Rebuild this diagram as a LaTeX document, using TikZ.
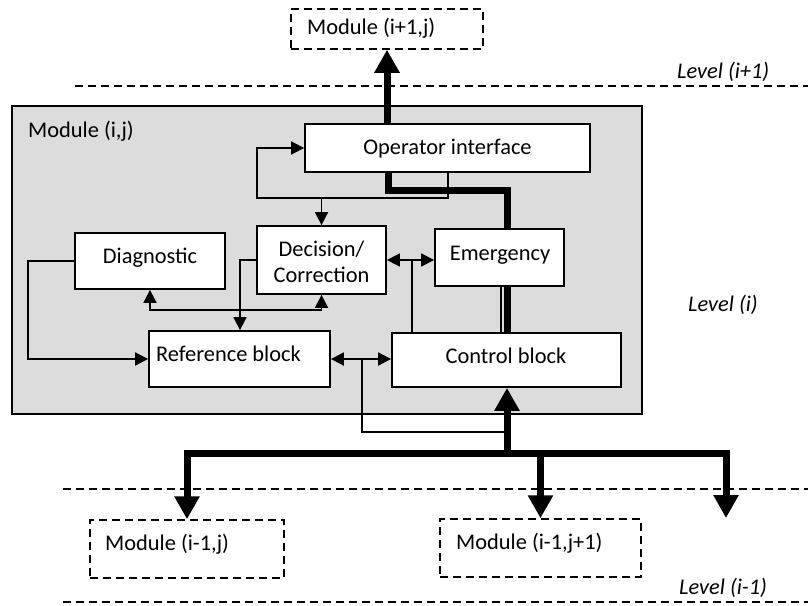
\documentclass[tikz,border=0pt]{standalone}
\usepackage{fontspec}
\setmainfont{Carlito}
\usetikzlibrary{arrows.meta,calc}
\definecolor{modgray}{RGB}{220,220,220}
\tikzset{
  box/.style={draw=black, line width=1.8pt, fill=white, inner sep=0pt},
  dbox/.style={draw=black, line width=1.5pt, dash pattern=on 8pt off 5pt, inner sep=0pt},
  modbox/.style={draw=black, line width=1.8pt, fill=modgray, inner sep=0pt},
  txt/.style={inner sep=0pt, font=\fontsize{22.4}{27}\selectfont, text height=14.4pt, text depth=0pt},
  itxt/.style={txt, font=\fontsize{22.4}{27}\selectfont\itshape},
  thin/.style={line width=1.8pt},
  thinarr/.style={line width=1.8pt, -{Triangle[width=13pt,length=13pt]}},
  thinbi/.style={line width=1.8pt, {Triangle[width=13pt,length=13pt]}-{Triangle[width=13pt,length=13pt]}},
  fat/.style={line width=7pt},
  fatarr/.style={line width=7pt, -{Triangle[width=24pt,length=23pt]}},
  fatbi/.style={line width=7pt, {Triangle[width=24pt,length=23pt]}-{Triangle[width=24pt,length=23pt]}},
  levelline/.style={line width=1.5pt, dash pattern=on 8pt off 5pt}
}
\begin{document}
\begin{tikzpicture}[x=1pt,y=-1pt]
\useasboundingbox (0,0) rectangle (808,605);

% level lines
\coordinate (l1a) at (75,86);  \coordinate (l1b) at (808,86);
\coordinate (l2a) at (63,489); \coordinate (l2b) at (808,489);
\coordinate (l3a) at (63,602); \coordinate (l3b) at (808,602);
\draw[levelline] (l1a) -- (l1b);
\draw[levelline] (l2a) -- (l2b);
\draw[levelline] (l3a) -- (l3b);

% module (i,j)
\node[modbox, minimum width=630pt, minimum height=308pt] (mod) at (327,260) {};
\node[txt, anchor=west] (modt) at (28,130) {Module (i,j)};

% blocks
\node[box, minimum width=285pt, minimum height=48pt] (op) at (447.5,148) {};
\node[box, minimum width=129pt, minimum height=68pt] (dec) at (321.5,260) {};
\node[box, minimum width=129pt, minimum height=57pt] (em) at (499.5,257.5) {};
\node[box, minimum width=150pt, minimum height=56pt] (diag) at (150,261) {};
\node[box, minimum width=181pt, minimum height=56pt] (ref) at (239.5,359) {};
\node[box, minimum width=229pt, minimum height=54pt] (ctrl) at (506.5,360) {};

\node[txt] (opt) at (447.5,147) {Operator interface};
\node[txt] (dect1) at (321.5,249) {Decision/};
\node[txt] (dect2) at (321.5,275.5) {Correction};
\node[txt] (emt) at (500,253) {Emergency};
\node[txt] (diagt) at (150,256) {Diagnostic};
\node[txt, anchor=west] (reft) at (156,354) {Reference block};
\node[txt] (ctrlt) at (506,356.5) {Control block};

% other modules
\node[dbox, minimum width=192pt, minimum height=40pt] (top) at (387,29) {};
\node[txt, anchor=west] (topt) at (307,27) {Module (i+1,j)};
\node[dbox, minimum width=194pt, minimum height=58pt] (m1) at (187,549) {};
\node[txt, anchor=west] (m1t) at (105,543.5) {Module (i-1,j)};
\node[dbox, minimum width=201pt, minimum height=58pt] (m2) at (540.5,548) {};
\node[txt, anchor=west] (m2t) at (456,542.5) {Module (i-1,j+1)};

% level labels
\node[itxt, anchor=west] (lv1) at (677,71) {Level (i+1)};
\node[itxt, anchor=west] (lv2) at (688,304.5) {Level (i)};
\node[itxt, anchor=west] (lv3) at (679,587) {Level (i-1)};

% helper coordinates
\coordinate (xb) at (388,0);
\coordinate (xc) at (507,0);
\coordinate (xthin) at (501,0);
\coordinate (yb) at (0,190);
\coordinate (xd) at (448,0);
\coordinate (xe) at (257,0);
\coordinate (yd) at (0,198);
\coordinate (xf) at (412,0);
\coordinate (xg) at (28,0);
\coordinate (xh) at (240,0);
\coordinate (yj) at (0,310);
\coordinate (xl) at (362,0);
\coordinate (ym) at (0,432);
\coordinate (ybus) at (0,453.5);
\coordinate (xr) at (726,0);
\coordinate (rend) at (726,518);

% thick connections
\draw[fatarr] (op.north -| top.south) -- (top.south);
\draw[fat] (op.south -| xb) -- (xb |- yb) -| (em.north -| xc);
\draw[fat] (em.south -| xc) -- (ctrl.north -| xc);
\draw[thin] (em.south -| xthin) -- (ctrl.north -| xthin);

% thin connections
\draw[thinarr] (op.south -| xd) |- (xe |- yd) |- (op.west);
\draw[thinarr] (dec.north |- yd) -- (dec.north);
\draw[thinbi] (dec.east) -- (em.west |- dec.east);
\draw[thin] (xf |- dec.east) -- (ctrl.north -| xf);
\draw[thinarr] (diag.west) -- (xg |- diag.west) |- (ref.west);
\draw[thinarr] (dec.west) -- (xh |- dec.west) -- (ref.north -| xh);
\draw[thinbi] (diag.south) |- (dec.south |- yj) -- (dec.south);
\draw[thinbi] (ref.east) -- (ctrl.west |- ref.east);
\draw[thin] (xl |- ref.east) |- (xc |- ym);

% bus
\draw[fatarr] (xc |- ybus) -- (ctrl.south -| xc);
\draw[fatbi] (m1.north) -- (m1.north |- ybus) -- (xr |- ybus) -- (rend);
\draw[fatarr] (m2.north |- ybus) -- (m2.north);
\end{tikzpicture}
\end{document}
